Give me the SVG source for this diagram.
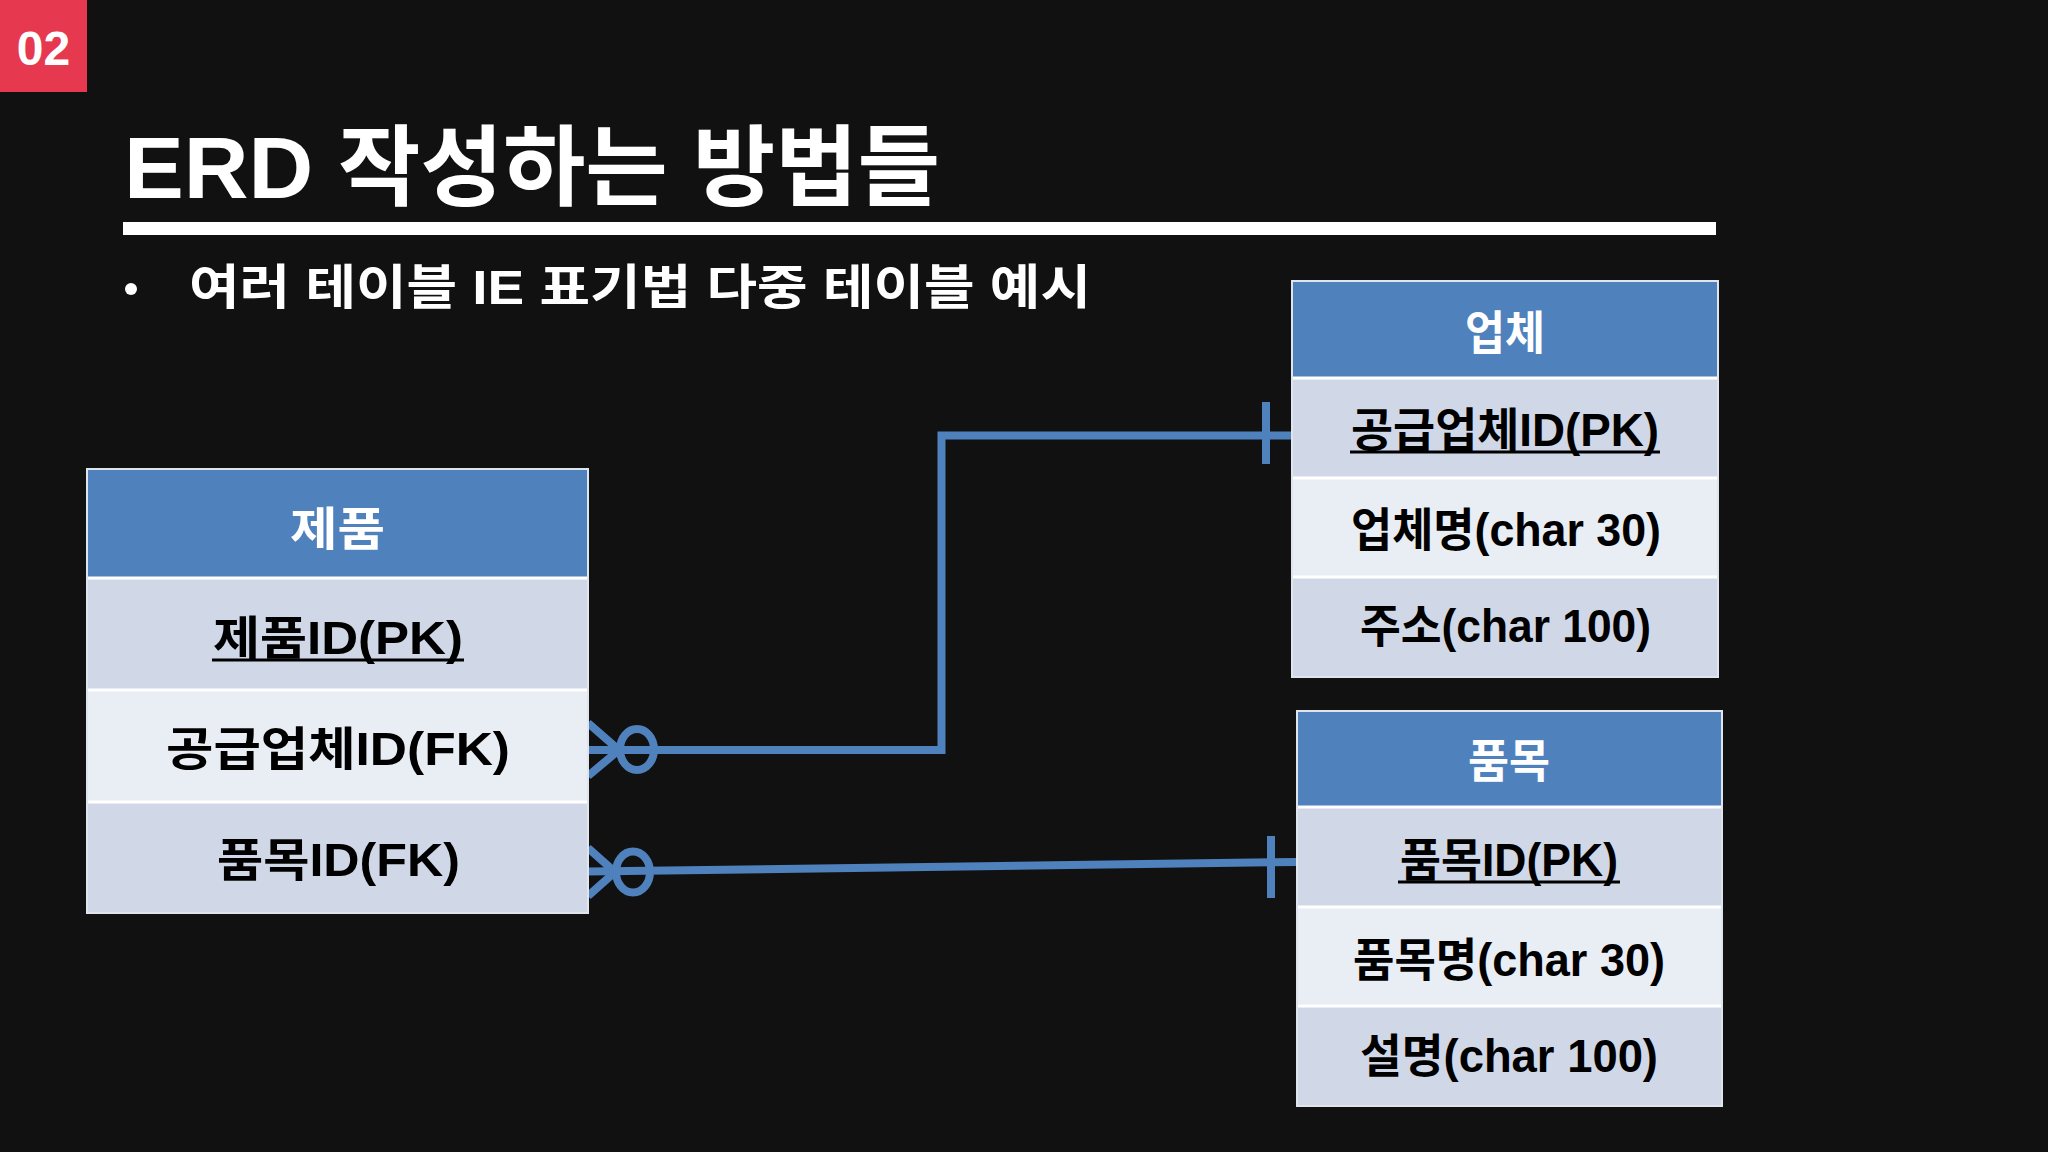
<svg xmlns="http://www.w3.org/2000/svg" width="2048" height="1152" viewBox="0 0 2048 1152">
<style>
.t{font-family:"Liberation Sans","Noto Sans CJK KR",sans-serif;font-weight:bold;}
.hd{fill:#4F81BD;}
.r1{fill:#D0D8E8;}
.r2{fill:#E9EDF4;}
.sep{stroke:#FFFFFF;stroke-width:3;}
.frame{fill:none;stroke:#E0E4EC;stroke-width:2;}
.ht{font-size:46px;fill:#FFFFFF;text-anchor:middle;}
.rt{font-size:46px;fill:#000000;text-anchor:middle;}
.ul{stroke:#000000;stroke-width:3;}
.cn{fill:none;stroke:#4F81BD;stroke-width:8;}
</style>
<rect x="0" y="0" width="2048" height="1152" fill="#111111"/>
<g id="badge">
<rect x="0" y="0" width="87" height="92" fill="#E63950"/>
<text class="t" x="43.5" y="65" font-size="48" fill="#FFFFFF" text-anchor="middle">02</text>
</g>
<g id="title">
<text class="t" x="124" y="198" font-size="88" fill="#FFFFFF" textLength="816" lengthAdjust="spacingAndGlyphs">ERD 작성하는 방법들</text>
<rect x="123" y="222" width="1593" height="13" fill="#FFFFFF"/>
</g>
<g id="subtitle">
<circle cx="131" cy="289" r="6" fill="#FFFFFF"/>
<text class="t" x="189" y="304" font-size="48" fill="#FFFFFF" textLength="902" lengthAdjust="spacingAndGlyphs">여러 테이블 IE 표기법 다중 테이블 예시</text>
</g>
<g id="connectors">
<path class="cn" d="M588,750 H941.5 V435.5 H1293"/>
<line class="cn" x1="1266" y1="402" x2="1266" y2="464"/>
<path class="cn" d="M588,723 L619,750 M588,776 L619,750"/>
<ellipse class="cn" cx="637" cy="749.5" rx="17" ry="20.5"/>
<path class="cn" d="M588,871.5 L1297,862"/>
<line class="cn" x1="1271" y1="836" x2="1271" y2="898"/>
<path class="cn" d="M588,848 L615,872 M588,896 L615,872"/>
<ellipse class="cn" cx="633" cy="872" rx="17" ry="20.5"/>
</g>
<g id="table-product">
<rect class="hd" x="87" y="469" width="501" height="109"/>
<rect class="r1" x="87" y="578" width="501" height="112"/>
<rect class="r2" x="87" y="690" width="501" height="112"/>
<rect class="r1" x="87" y="802" width="501" height="111"/>
<line class="sep" x1="87" y1="578" x2="588" y2="578"/>
<line class="sep" x1="87" y1="690" x2="588" y2="690"/>
<line class="sep" x1="87" y1="802" x2="588" y2="802"/>
<rect class="frame" x="87" y="469" width="501" height="444"/>
<text class="t ht" x="337.5" y="545" textLength="95" lengthAdjust="spacingAndGlyphs">제품</text>
<text class="t rt" x="338" y="654" textLength="250" lengthAdjust="spacingAndGlyphs">제품ID(PK)</text>
<line class="ul" x1="212" y1="660" x2="464" y2="660"/>
<text class="t rt" x="338" y="765" textLength="344" lengthAdjust="spacingAndGlyphs">공급업체ID(FK)</text>
<text class="t rt" x="338.5" y="876" textLength="243" lengthAdjust="spacingAndGlyphs">품목ID(FK)</text>
</g>
<g id="table-vendor">
<rect class="hd" x="1292" y="281" width="426" height="97"/>
<rect class="r1" x="1292" y="378" width="426" height="100"/>
<rect class="r2" x="1292" y="478" width="426" height="99"/>
<rect class="r1" x="1292" y="577" width="426" height="100"/>
<line class="sep" x1="1292" y1="378" x2="1718" y2="378"/>
<line class="sep" x1="1292" y1="478" x2="1718" y2="478"/>
<line class="sep" x1="1292" y1="577" x2="1718" y2="577"/>
<rect class="frame" x="1292" y="281" width="426" height="396"/>
<text class="t ht" x="1505" y="349" textLength="80" lengthAdjust="spacingAndGlyphs">업체</text>
<text class="t rt" x="1505" y="446" textLength="308" lengthAdjust="spacingAndGlyphs">공급업체ID(PK)</text>
<line class="ul" x1="1350" y1="452" x2="1660" y2="452"/>
<text class="t rt" x="1506" y="546" textLength="310" lengthAdjust="spacingAndGlyphs">업체명(char 30)</text>
<text class="t rt" x="1505.5" y="642" textLength="291" lengthAdjust="spacingAndGlyphs">주소(char 100)</text>
</g>
<g id="table-item">
<rect class="hd" x="1297" y="711" width="425" height="96"/>
<rect class="r1" x="1297" y="807" width="425" height="100"/>
<rect class="r2" x="1297" y="907" width="425" height="99"/>
<rect class="r1" x="1297" y="1006" width="425" height="100"/>
<line class="sep" x1="1297" y1="807" x2="1722" y2="807"/>
<line class="sep" x1="1297" y1="907" x2="1722" y2="907"/>
<line class="sep" x1="1297" y1="1006" x2="1722" y2="1006"/>
<rect class="frame" x="1297" y="711" width="425" height="395"/>
<text class="t ht" x="1509" y="777" textLength="82" lengthAdjust="spacingAndGlyphs">품목</text>
<text class="t rt" x="1509" y="876" textLength="218" lengthAdjust="spacingAndGlyphs">품목ID(PK)</text>
<line class="ul" x1="1398" y1="882" x2="1620" y2="882"/>
<text class="t rt" x="1509" y="976" textLength="312" lengthAdjust="spacingAndGlyphs">품목명(char 30)</text>
<text class="t rt" x="1509" y="1072" textLength="298" lengthAdjust="spacingAndGlyphs">설명(char 100)</text>
</g>
</svg>
